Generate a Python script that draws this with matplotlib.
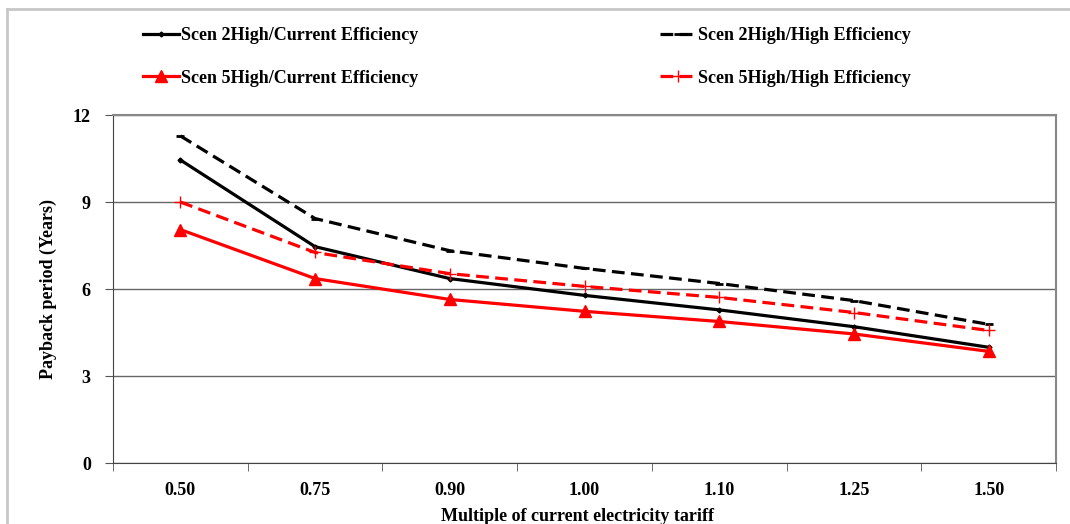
import numpy as np
import matplotlib.pyplot as plt
from matplotlib.lines import Line2D

plt.rcParams['font.family'] = ['Liberation Serif', 'DejaVu Serif']
plt.rcParams['font.weight'] = 'bold'

# multiples of current tariff (categorical axis)
tariffs = ['0.50', '0.75', '0.90', '1.00', '1.10', '1.25', '1.50']
s2_current = [10.45, 7.46, 6.36, 5.78, 5.28, 4.70, 3.99]
s2_high = [11.28, 8.43, 7.32, 6.71, 6.19, 5.60, 4.78]
s5_current = [8.05, 6.36, 5.64, 5.23, 4.88, 4.45, 3.85]
s5_high = [9.00, 7.26, 6.53, 6.09, 5.71, 5.19, 4.57]
labels = ['Scen 2High/Current Efficiency', 'Scen 2High/High Efficiency',
          'Scen 5High/Current Efficiency', 'Scen 5High/High Efficiency']

fig = plt.figure(figsize=(10.7, 5.24), dpi=100)
ax = fig.add_axes([0.1056, 0.1164, 0.8814, 0.6641])

x = np.arange(len(tariffs))
lw = 2.3
dash = (4, 2)
l1, = ax.plot(x, s2_current, color='black', lw=lw, marker='D', ms=2.5)
l2, = ax.plot(x, s2_high, color='black', lw=lw, ls=(0, dash), marker='_', ms=6, mew=2)
l3, = ax.plot(x, s5_current, color='#ff0000', lw=lw, marker='^', ms=8)
l4, = ax.plot(x, s5_high, color='#ff0000', lw=lw, ls=(0, dash), marker='+', ms=9, mew=1)

ax.set_xlim(-0.5, len(tariffs) - 0.5)
ax.set_ylim(0, 12)
ax.set_yticks([0, 3, 6, 9, 12])
ax.set_xticks(x)
ax.set_xticklabels(tariffs)
ax.set_xticks(np.arange(len(tariffs) + 1) - 0.5, minor=True)
ax.tick_params(axis='x', which='major', length=0, pad=14, labelsize=13)
ax.tick_params(axis='x', which='minor', length=6, color='#555555')
ax.tick_params(axis='y', length=6, color='#555555', pad=10, labelsize=13)
ax.grid(axis='y', color='#666666', lw=1)
ax.set_axisbelow(True)
for side in ['top', 'right']:
    ax.spines[side].set_color('#888888')
    ax.spines[side].set_linewidth(1.5)
ax.spines['left'].set_color('#444444')
ax.spines['bottom'].set_color('#444444')

ax.set_ylabel('Payback period (Years)', fontsize=13, fontweight='bold', labelpad=11)
fig.text(0.54, 0.030, 'Multiple of current electricity tariff', ha='center', va='top',
         fontsize=13, fontweight='bold')

fig.legend([l1, l3, l2, l4], [labels[0], labels[2], labels[1], labels[3]],
           loc='upper left', bbox_to_anchor=(0.1187, 0.979), ncol=2, frameon=False,
           fontsize=13, handlelength=2.0, handletextpad=0.1, columnspacing=13.4,
           labelspacing=1.41)

# outer chart-area border
fig.add_artist(Line2D([0.0065, 0.0065], [0, 0.983], transform=fig.transFigure,
                      color='#c8c8c8', lw=2))
fig.add_artist(Line2D([0.0065, 1], [0.983, 0.983], transform=fig.transFigure,
                      color='#c8c8c8', lw=2))

fig.savefig('out.png', dpi=100)
